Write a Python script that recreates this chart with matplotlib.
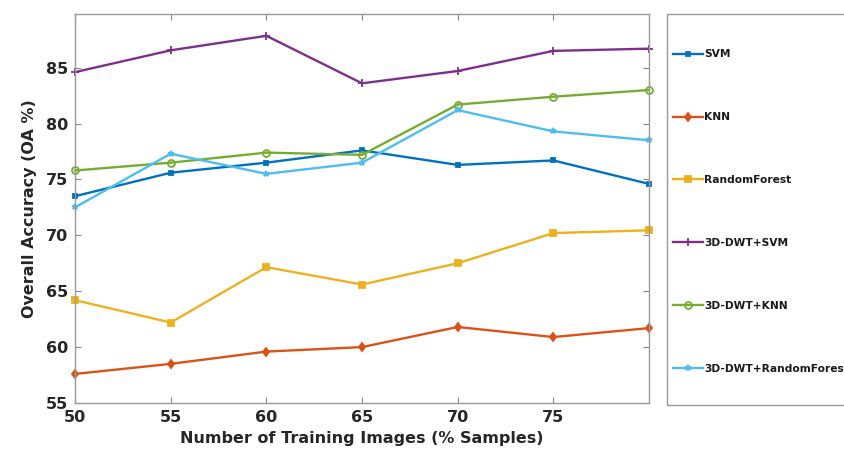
import matplotlib
matplotlib.use("Agg")
import matplotlib.pyplot as plt
from matplotlib.patches import Rectangle

plt.rcParams['font.family'] = ['DejaVu Sans']

# Training set size (% of samples)
train_pct = [50, 55, 60, 65, 70, 75, 80]

# Overall accuracy (OA %) per classifier
svm = [73.5, 75.6, 76.5, 77.6, 76.3, 76.7, 74.6]
knn = [57.6, 58.5, 59.6, 60.0, 61.8, 60.9, 61.7]
random_forest = [64.2, 62.2, 67.15, 65.6, 67.5, 70.2, 70.45]
dwt_svm = [84.6, 86.55, 87.85, 83.6, 84.7, 86.5, 86.7]
dwt_knn = [75.8, 76.5, 77.4, 77.2, 81.7, 82.4, 83.0]
dwt_random_forest = [72.5, 77.3, 75.5, 76.5, 81.2, 79.3, 78.5]

labels = ['SVM', 'KNN', 'RandomForest', '3D-DWT+SVM', '3D-DWT+KNN',
          '3D-DWT+RandomForest']
xticks = [50, 55, 60, 65, 70, 75]
yticks = [55, 60, 65, 70, 75, 80, 85]

colors = ['#0072BD', '#D95319', '#EDB120', '#7E2F8E', '#77AC30', '#4DBEEE']
markers = ['s', 'd', 's', '+', 'o', '*']
msizes = [2.8, 4.5, 4.2, 5.5, 5, 4]

W, H = 844, 457
fig = plt.figure(figsize=(W / 100, H / 100), dpi=100)
ax = fig.add_axes([75 / W, 54 / H, 574 / W, 389 / H])

series = [svm, knn, random_forest, dwt_svm, dwt_knn, dwt_random_forest]
handles = []
for vals, c, m, ms, lab in zip(series, colors, markers, msizes, labels):
    mfc = 'none' if m == 'o' else c
    h, = ax.plot(train_pct, vals, color=c, marker=m, markersize=ms,
                 markerfacecolor=mfc, markeredgecolor=c, markeredgewidth=1.3,
                 linewidth=1.7, label=lab, clip_on=False)
    handles.append(h)

ax.set_xlim(50, 80)
ax.set_ylim(55, 89.8)
ax.set_xticks(xticks)
ax.set_yticks(yticks)
ax.tick_params(direction='in', length=4, width=0.8, color='#888888',
               top=True, right=True, labelsize=11.5, labelcolor='#262626',
               pad=5)
for t in ax.get_xticklabels() + ax.get_yticklabels():
    t.set_fontweight('bold')
for s in ax.spines.values():
    s.set_color('#9a9a9a')
    s.set_linewidth(1.0)

ax.set_xlabel('Number of Training Images (% Samples)', fontsize=11.5,
              fontweight='bold', color='#262626', labelpad=4)
ax.set_ylabel('Overall Accuracy (OA %)', fontsize=11.5, fontweight='bold',
              color='#262626', labelpad=6)

# Legend frame (runs past the right edge of the figure)
frame = Rectangle((667 / W, (H - 405) / H), 200 / W, 391 / H,
                  transform=fig.transFigure, facecolor='white',
                  edgecolor='#9a9a9a', linewidth=1.0, clip_on=False)
fig.patches.append(frame)

leg = fig.legend(handles=handles, labels=labels, loc='upper left',
                 bbox_to_anchor=(668 / W, (H - 44) / H), frameon=False,
                 borderpad=0, labelspacing=4.95, handlelength=2.75,
                 handletextpad=0.15, prop={'size': 7.7, 'weight': 'bold'})
for t in leg.get_texts():
    t.set_color('#1a1a1a')

fig.savefig('out.png', dpi=100)
